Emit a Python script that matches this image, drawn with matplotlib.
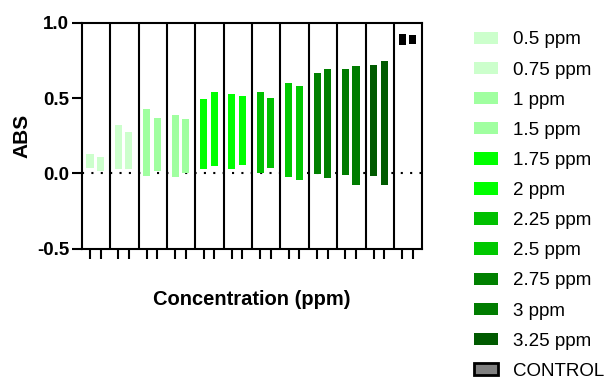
import matplotlib
matplotlib.use("Agg")
import matplotlib.pyplot as plt
import matplotlib.patches as mpatches
import numpy as np

plt.rcParams['font.family'] = ['Liberation Sans', 'DejaVu Sans']

groups = ['0.5 ppm', '0.75 ppm', '1 ppm', '1.5 ppm', '1.75 ppm', '2 ppm',
          '2.25 ppm', '2.5 ppm', '2.75 ppm', '3 ppm', '3.25 ppm', 'CONTROL']
colors = ['#ccffcc', '#ccffcc', '#a0ffa0', '#a0ffa0', '#00ff00', '#00ff00',
          '#00c000', '#00c800', '#008000', '#007c00', '#005a00', '#000000']

# floating bars: (low, high) for the two replicates of each group
low_a = [0.033, 0.027, -0.016, -0.025, 0.027, 0.029, 0.0, -0.025, -0.005, -0.011, -0.018, 0.849]
high_a = [0.126, 0.320, 0.430, 0.387, 0.495, 0.526, 0.537, 0.597, 0.663, 0.690, 0.717, 0.926]
low_b = [0.017, 0.029, 0.013, 0.0, 0.048, 0.053, 0.035, -0.046, -0.029, -0.078, -0.076, 0.860]
high_b = [0.110, 0.276, 0.367, 0.362, 0.540, 0.513, 0.500, 0.580, 0.690, 0.710, 0.743, 0.916]

fig = plt.figure(figsize=(6.06, 3.79), dpi=100)
ax = fig.add_axes([0.135, 0.344, 0.562, 0.596])

idx = np.arange(len(groups))
xa = idx + 0.29
xb = idx + 0.66
low_a = np.array(low_a); high_a = np.array(high_a)
low_b = np.array(low_b); high_b = np.array(high_b)

ax.bar(xa, high_a - low_a, bottom=low_a, width=0.25, color=colors, zorder=3)
ax.bar(xb, high_b - low_b, bottom=low_b, width=0.25, color=colors, zorder=3)

for i in range(1, len(groups)):
    ax.axvline(i, color='black', lw=1.5, zorder=2)

ax.axhline(0, color='black', lw=1.5, linestyle=(0, (1, 3.5)), zorder=1)

ax.set_xlim(0, len(groups))
ax.set_ylim(-0.5, 1.0)
ax.set_yticks([-0.5, 0.0, 0.5, 1.0])
ax.set_yticklabels(['-0.5', '0.0', '0.5', '1.0'], fontweight='bold', fontsize=13.5)
ax.set_xticks(np.concatenate([xa, xb]))
ax.set_xticklabels([])
ax.tick_params(axis='y', direction='out', length=7, width=1.5, pad=2)
ax.tick_params(axis='x', direction='out', length=7, width=1.5)
for s in ax.spines.values():
    s.set_linewidth(1.5)

ax.set_ylabel('ABS', fontweight='bold', fontsize=15, labelpad=4)
ax.set_xlabel('Concentration (ppm)', fontweight='bold', fontsize=14.5, labelpad=19)

handles = []
for g, c in zip(groups, colors):
    if g == 'CONTROL':
        handles.append(mpatches.Patch(facecolor='#808080', edgecolor='black', lw=2, label=g))
    else:
        handles.append(mpatches.Patch(facecolor=c, edgecolor='none', label=g))

fig.legend(handles=handles, loc='upper left', bbox_to_anchor=(0.77, 0.937),
           frameon=False, fontsize=13.5, handlelength=1.3, handleheight=0.65,
           handletextpad=0.75, labelspacing=0.7, borderaxespad=0)

fig.savefig('out.png', dpi=100)
